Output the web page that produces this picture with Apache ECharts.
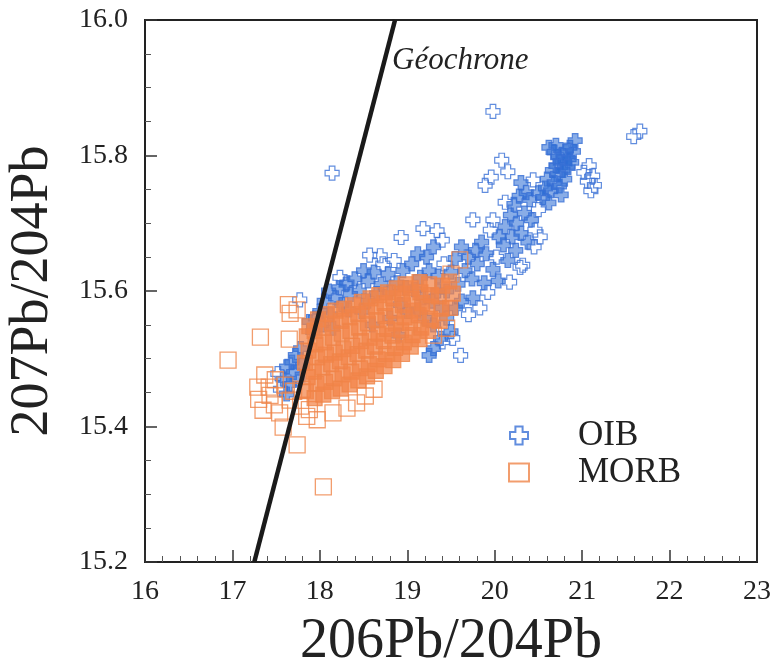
<!DOCTYPE html>
<html>
<head>
    <meta charset="utf-8">
    <script src="https://cdn.jsdelivr.net/npm/echarts@6/dist/echarts.min.js"></script>
</head>
<body style="margin:0">
    <div id="main" style="width: 776px;height:664px;"></div>

    <script type="text/javascript">
        // axis ticks
        var xTicks = [16, 17, 18, 19, 20, 21, 22, 23];
        var yTicks = [15.2, 15.4, 15.6, 15.8, 16.0];

        // geochron line end points (206Pb/204Pb, 207Pb/204Pb)
        var geochron = [[17.25, 15.2], [18.86, 16.0]];

        // OIB - scattered crosses
        var oibSparse = [
            [19.98, 15.865], [21.66, 15.836], [21.59, 15.828], [18.14, 15.774], [20.08, 15.793], [20.15, 15.776],
            [19.96, 15.768], [19.89, 15.756], [19.18, 15.692], [19.34, 15.689], [18.93, 15.679], [19.61, 15.505],
            [20.32, 15.638], [20.17, 15.613], [20.46, 15.690], [20.50, 15.720], [20.29, 15.635], [20.44, 15.764],
            [20.12, 15.731], [19.98, 15.705], [19.75, 15.705], [19.40, 15.675], [18.57, 15.653], [18.69, 15.652],
            [18.31, 15.612], [18.23, 15.620], [17.77, 15.587], [21.08, 15.785], [21.12, 15.770], [21.06, 15.762],
            [21.14, 15.756], [21.02, 15.775], [21.10, 15.748], [20.02, 15.650], [19.95, 15.690], [20.52, 15.680],
            [20.45, 15.665], [19.42, 15.640], [18.85, 15.645], [18.72, 15.640], [19.83, 15.575], [19.92, 15.598],
            [17.52, 15.478], [17.55, 15.455], [19.70, 15.565], [19.52, 15.530], [19.40, 15.525]
        ];

        // OIB - dense part of the array
        var oibDense = [
            [20.62, 15.812], [20.68, 15.805], [20.72, 15.798], [20.78, 15.800], [20.82, 15.808], [20.86, 15.812],
            [20.90, 15.806], [20.70, 15.785], [20.75, 15.790], [20.80, 15.790], [20.85, 15.795], [20.66, 15.778],
            [20.72, 15.772], [20.78, 15.778], [20.84, 15.782], [20.60, 15.765], [20.68, 15.760], [20.74, 15.755],
            [20.80, 15.765], [20.64, 15.748], [20.58, 15.752], [20.76, 15.742], [20.88, 15.790], [20.92, 15.822],
            [20.70, 15.815], [20.55, 15.738], [20.50, 15.745], [20.62, 15.730],
            [20.30, 15.760], [20.36, 15.745], [20.40, 15.735], [20.28, 15.740], [20.22, 15.728], [20.34, 15.715],
            [20.42, 15.705], [20.25, 15.700], [20.18, 15.712], [20.12, 15.695], [20.20, 15.680], [20.30, 15.685],
            [20.38, 15.672], [20.10, 15.668], [20.05, 15.680], [20.24, 15.660], [20.15, 15.645],
            [19.85, 15.672], [19.78, 15.660], [19.90, 15.655], [19.70, 15.650], [19.62, 15.665], [19.55, 15.648],
            [19.80, 15.640], [19.98, 15.632], [19.66, 15.630], [19.50, 15.628], [19.74, 15.618], [19.88, 15.612],
            [19.58, 15.610], [19.35, 15.622], [19.45, 15.600], [19.75, 15.590], [19.62, 15.585], [20.04, 15.615],
            [19.55, 15.575],
            [19.30, 15.665], [19.22, 15.650], [19.12, 15.655], [19.05, 15.640], [19.25, 15.630], [19.15, 15.620],
            [18.95, 15.630], [18.78, 15.625], [19.35, 15.600], [19.08, 15.602], [18.98, 15.605], [18.88, 15.612],
            [18.70, 15.610], [18.62, 15.628], [18.55, 15.615], [19.28, 15.585], [19.18, 15.590], [18.80, 15.598],
            [18.65, 15.596], [19.40, 15.575], [19.12, 15.572], [18.92, 15.580],
            [18.50, 15.630], [18.40, 15.618], [18.30, 15.610], [18.45, 15.600], [18.35, 15.595], [18.22, 15.605],
            [18.18, 15.590], [18.10, 15.600], [18.25, 15.580], [18.05, 15.585], [18.00, 15.570], [17.95, 15.560],
            [17.88, 15.555], [18.55, 15.585], [18.12, 15.565], [17.92, 15.540], [18.02, 15.550], [18.33, 15.572],
            [18.48, 15.570], [18.15, 15.545],
            [17.78, 15.515], [17.72, 15.505], [17.68, 15.495], [17.62, 15.488], [17.70, 15.480], [17.58, 15.470],
            [17.65, 15.462], [17.75, 15.470], [17.62, 15.448], [17.80, 15.490],
            [18.60, 15.550], [18.80, 15.560], [19.00, 15.570], [19.20, 15.560], [18.90, 15.535], [19.30, 15.550],
            [19.45, 15.560], [19.50, 15.540], [19.38, 15.530], [19.30, 15.515], [19.25, 15.505]
        ];

        // MORB - scattered squares
        var morbSparse = [
            [16.95, 15.498], [17.32, 15.532], [17.65, 15.529], [17.74, 15.572], [17.66, 15.567], [17.64, 15.580],
            [17.29, 15.458], [17.35, 15.424], [17.54, 15.420], [17.58, 15.399], [17.74, 15.373], [18.04, 15.311],
            [17.97, 15.410], [18.15, 15.420], [18.31, 15.427], [18.42, 15.435], [17.37, 15.476], [17.49, 15.469],
            [17.60, 15.461], [17.43, 15.446], [17.66, 15.439], [17.30, 15.440], [17.48, 15.432], [17.70, 15.452],
            [17.78, 15.430], [17.88, 15.425], [18.52, 15.445], [18.62, 15.455], [19.30, 15.535], [19.45, 15.545],
            [19.60, 15.646], [19.50, 15.625], [17.42, 15.458], [17.80, 15.455], [17.85, 15.415]
        ];

        // MORB - dense core
        var morbDense = [
            [17.84, 15.452], [17.86, 15.473], [17.83, 15.494], [17.87, 15.512], [17.85, 15.533], [17.88, 15.548],
            [17.94, 15.442], [17.96, 15.463], [17.93, 15.481], [17.97, 15.502], [17.95, 15.521], [17.94, 15.541], [17.98, 15.558],
            [18.04, 15.447], [18.06, 15.466], [18.03, 15.487], [18.07, 15.506], [18.05, 15.524], [18.04, 15.546], [18.08, 15.566],
            [18.14, 15.452], [18.16, 15.471], [18.13, 15.492], [18.17, 15.509], [18.15, 15.531], [18.14, 15.552], [18.18, 15.571],
            [18.24, 15.456], [18.26, 15.477], [18.23, 15.496], [18.27, 15.514], [18.25, 15.537], [18.24, 15.556], [18.28, 15.574],
            [18.34, 15.462], [18.36, 15.481], [18.33, 15.502], [18.37, 15.519], [18.35, 15.541], [18.34, 15.561], [18.38, 15.579],
            [18.44, 15.468], [18.46, 15.486], [18.43, 15.507], [18.47, 15.526], [18.45, 15.546], [18.44, 15.566], [18.48, 15.584],
            [18.54, 15.474], [18.56, 15.492], [18.53, 15.512], [18.57, 15.531], [18.55, 15.552], [18.54, 15.571], [18.58, 15.589],
            [18.64, 15.482], [18.66, 15.499], [18.63, 15.518], [18.67, 15.537], [18.65, 15.557], [18.64, 15.577], [18.68, 15.594],
            [18.74, 15.489], [18.76, 15.507], [18.73, 15.526], [18.77, 15.544], [18.75, 15.563], [18.74, 15.582], [18.78, 15.598],
            [18.84, 15.498], [18.86, 15.516], [18.83, 15.534], [18.87, 15.552], [18.85, 15.571], [18.84, 15.589], [18.88, 15.604],
            [18.94, 15.507], [18.96, 15.524], [18.93, 15.542], [18.97, 15.561], [18.95, 15.579], [18.94, 15.596], [18.98, 15.610],
            [19.04, 15.518], [19.06, 15.535], [19.03, 15.553], [19.07, 15.571], [19.05, 15.588], [19.04, 15.604],
            [19.14, 15.529], [19.16, 15.546], [19.13, 15.564], [19.17, 15.582], [19.15, 15.598], [19.14, 15.613],
            [19.24, 15.541], [19.26, 15.559], [19.23, 15.577], [19.27, 15.594], [19.25, 15.610],
            [19.37, 15.556], [19.39, 15.574], [19.36, 15.592], [19.40, 15.608],
            [19.49, 15.575], [19.52, 15.596], [19.48, 15.614]
        ];

        var serif = "'Liberation Serif', 'Times New Roman', serif";
        var crossPath = 'path://M3,0 L7,0 L7,3 L10,3 L10,7 L7,7 L7,10 L3,10 L3,7 L0,7 L0,3 L3,3 Z';
        var blue = '#3a70d6';
        var orange = '#ef8548';

        var myChart = echarts.init(document.getElementById('main'));

        var option = {
            animation: false,
            backgroundColor: '#fff',
            grid: {
                left: 145,
                right: 19,
                top: 20,
                bottom: 102,
                containLabel: false,
                outerBoundsMode: 'none',
                show: true,
                borderColor: '#222',
                borderWidth: 2
            },
            legend: {
                data: ['OIB', 'MORB'],
                orient: 'vertical',
                left: 508,
                top: 417,
                padding: 0,
                itemGap: 0,
                itemWidth: 20,
                itemHeight: 18,
                textStyle: {
                    fontFamily: serif,
                    fontSize: 35,
                    lineHeight: 37,
                    color: '#222',
                    padding: [0, 0, 0, 44]
                }
            },
            xAxis: {
                type: 'value',
                min: 16,
                max: 23,
                interval: 1,
                name: '206Pb/204Pb',
                nameLocation: 'middle',
                nameGap: 52,
                nameTextStyle: { fontFamily: serif, fontSize: 56, color: '#222' },
                axisLine: { lineStyle: { color: '#222', width: 2 } },
                axisTick: { inside: true, length: 12, lineStyle: { color: '#333', width: 1.5 } },
                minorTick: { show: true, splitNumber: 5, length: 6, lineStyle: { color: '#555' } },
                splitLine: { show: false },
                axisLabel: { fontFamily: serif, fontSize: 28, color: '#222', margin: 16 }
            },
            yAxis: {
                type: 'value',
                min: 15.2,
                max: 16.0,
                interval: 0.2,
                name: '207Pb/204Pb',
                nameLocation: 'middle',
                nameGap: 85,
                nameTextStyle: { fontFamily: serif, fontSize: 54, color: '#222' },
                axisLine: { lineStyle: { color: '#222', width: 2 } },
                axisTick: { inside: true, length: 12, lineStyle: { color: '#333', width: 1.5 } },
                minorTick: { show: true, splitNumber: 4, length: 6, lineStyle: { color: '#555' } },
                splitLine: { show: false },
                axisLabel: {
                    fontFamily: serif, fontSize: 28, color: '#222', margin: 17,
                    formatter: function (v) { return v.toFixed(1); }
                }
            },
            graphic: [{
                type: 'text',
                left: 392,
                top: 45,
                style: {
                    text: 'Géochrone',
                    font: 'italic 31px ' + serif,
                    fill: '#222'
                }
            }],
            series: [
                {
                    name: 'OIB',
                    type: 'scatter',
                    symbol: crossPath,
                    symbolSize: 14,
                    itemStyle: { color: 'rgba(0,0,0,0)', borderColor: blue, borderWidth: 1.2 },
                    data: oibSparse,
                    z: 2
                },
                {
                    name: 'OIB',
                    type: 'scatter',
                    symbol: crossPath,
                    symbolSize: 14,
                    itemStyle: { color: 'rgba(45,108,212,0.7)', borderColor: blue, borderWidth: 1.2 },
                    data: oibDense,
                    z: 2
                },
                {
                    name: 'MORB',
                    type: 'scatter',
                    symbol: 'rect',
                    symbolSize: 16,
                    itemStyle: { color: 'rgba(0,0,0,0)', borderColor: orange, borderWidth: 1.3 },
                    data: morbSparse,
                    z: 3
                },
                {
                    name: 'MORB',
                    type: 'scatter',
                    symbol: 'rect',
                    symbolSize: 15,
                    itemStyle: { color: 'rgba(243,132,72,0.9)', borderColor: orange, borderWidth: 1.2 },
                    data: morbDense,
                    z: 3
                },
                {
                    name: 'Géochrone',
                    type: 'line',
                    data: geochron,
                    symbol: 'none',
                    lineStyle: { color: '#1a1a1a', width: 4.5 },
                    z: 5
                }
            ]
        };
        myChart.setOption(option);
    </script>
</body>
</html>
